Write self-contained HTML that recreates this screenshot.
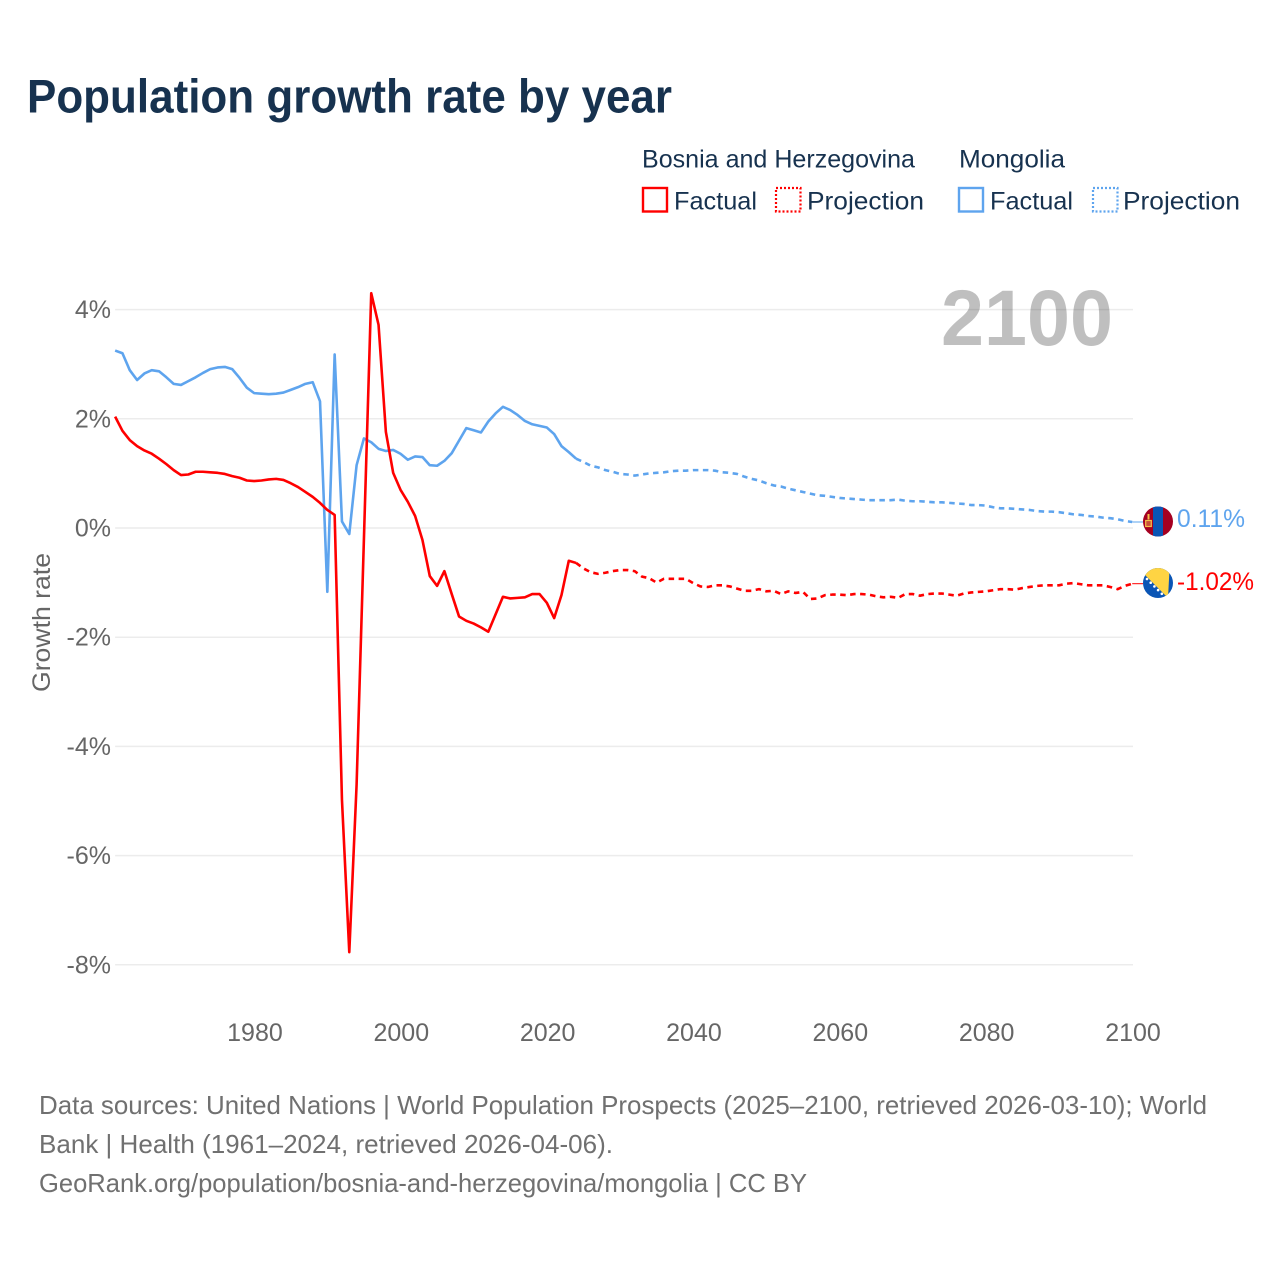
<!DOCTYPE html>
<html lang="en">
<head>
<meta charset="utf-8">
<title>Population growth rate by year</title>
<style>
html,body{margin:0;padding:0;background:#fff;}
svg{display:block;}
text{font-family:"Liberation Sans",sans-serif;}
</style>
</head>
<body>
<svg id="chart" xmlns="http://www.w3.org/2000/svg" width="1280" height="1280" viewBox="0 0 1280 1280">
  <rect x="0" y="0" width="1280" height="1280" fill="#ffffff"/>
  <text x="27" y="112.5" font-size="47" font-weight="700" fill="#17324f" textLength="645" lengthAdjust="spacingAndGlyphs">Population growth rate by year</text>

  <g font-size="25" fill="#17324f">
    <text x="642" y="167.5" textLength="273" lengthAdjust="spacingAndGlyphs">Bosnia and Herzegovina</text>
    <text x="959" y="167.5" textLength="106" lengthAdjust="spacingAndGlyphs">Mongolia</text>
    <g>
      <rect x="643" y="188" width="24" height="23.5" fill="none" stroke="#ff0000" stroke-width="2.4"/>
      <text x="674" y="209.5" textLength="83" lengthAdjust="spacingAndGlyphs">Factual</text>
    </g>
    <g>
      <rect x="776" y="188" width="24.5" height="23.5" fill="none" stroke="#ff0000" stroke-width="2.2" stroke-dasharray="2 2"/>
      <text x="807" y="209.5" textLength="117" lengthAdjust="spacingAndGlyphs">Projection</text>
    </g>
    <g>
      <rect x="959" y="188" width="24" height="23.5" fill="none" stroke="#5ea4ee" stroke-width="2.4"/>
      <text x="990" y="209.5" textLength="83" lengthAdjust="spacingAndGlyphs">Factual</text>
    </g>
    <g>
      <rect x="1093" y="188" width="24.5" height="23.5" fill="none" stroke="#5ea4ee" stroke-width="2.2" stroke-dasharray="2 2"/>
      <text x="1123" y="209.5" textLength="117" lengthAdjust="spacingAndGlyphs">Projection</text>
    </g>
  </g>

  <g id="grid"></g>
  <g id="yticks"></g>
  <g id="xticks"></g>

  <text transform="translate(50,692) rotate(-90)" font-size="25" fill="#666666" textLength="139" lengthAdjust="spacingAndGlyphs">Growth rate</text>

  <text x="941" y="345" font-size="79" font-weight="700" fill="#000000" fill-opacity="0.25" textLength="172" lengthAdjust="spacingAndGlyphs">2100</text>

  <g id="series"></g>

  <defs>
    <clipPath id="flag-clip-mn"><circle id="clip-mn" cx="1158" cy="521.5" r="15"/></clipPath>
    <clipPath id="flag-clip-ba"><circle id="clip-ba" cx="1158" cy="583" r="15"/></clipPath>
  </defs>
  <g id="flag-mn" clip-path="url(#flag-clip-mn)">
    <rect x="1143" y="506" width="30" height="31" fill="#a50021"/>
    <rect x="1153" y="506" width="10" height="31" fill="#0a55b5"/>
    <rect x="1145.7" y="520.5" width="5.6" height="6" fill="#c9503a" stroke="#f4c14a" stroke-width="1.2"/>
    <rect x="1147.5" y="514" width="2" height="5.5" fill="#f4c14a"/>
  </g>
  <g id="flag-ba" clip-path="url(#flag-clip-ba)">
    <rect x="1143" y="568" width="30" height="30" fill="#0a55b5"/>
    <polygon points="1144,574 1144,566 1169.7,566 1168,598" fill="#fed443"/>
    <g fill="#ffffff">
      <circle cx="1147" cy="579" r="1.3"/>
      <circle cx="1150.7" cy="582.7" r="1.3"/>
      <circle cx="1154.4" cy="586.4" r="1.3"/>
      <circle cx="1158.1" cy="590.1" r="1.3"/>
      <circle cx="1161.8" cy="593.8" r="1.3"/>
    </g>
  </g>

  <text id="label-mn" x="1177" y="527" font-size="25" fill="#5ea4ee" textLength="68" lengthAdjust="spacingAndGlyphs">0.11%</text>
  <text id="label-ba" x="1177" y="590" font-size="25" fill="#ff0000" textLength="77" lengthAdjust="spacingAndGlyphs">-1.02%</text>

  <g font-size="26" fill="#707070">
    <text x="39" y="1114" textLength="1168" lengthAdjust="spacingAndGlyphs">Data sources: United Nations | World Population Prospects (2025–2100, retrieved 2026-03-10); World</text>
    <text x="39" y="1153" textLength="574" lengthAdjust="spacingAndGlyphs">Bank | Health (1961–2024, retrieved 2026-04-06).</text>
    <text x="39" y="1192" textLength="768" lengthAdjust="spacingAndGlyphs">GeoRank.org/population/bosnia-and-herzegovina/mongolia | CC BY</text>
  </g>
</svg>

<script>
const factualYears = [1961,1962,1963,1964,1965,1966,1967,1968,1969,1970,1971,1972,1973,1974,1975,1976,1977,1978,1979,1980,1981,1982,1983,1984,1985,1986,1987,1988,1989,1990,1991,1992,1993,1994,1995,1996,1997,1998,1999,2000,2001,2002,2003,2004,2005,2006,2007,2008,2009,2010,2011,2012,2013,2014,2015,2016,2017,2018,2019,2020,2021,2022,2023,2024];
const projectionYears = [2024,2025,2026,2027,2028,2029,2030,2031,2032,2033,2034,2035,2036,2037,2038,2039,2040,2041,2042,2043,2044,2045,2046,2047,2048,2049,2050,2051,2052,2053,2054,2055,2056,2057,2058,2059,2060,2061,2062,2063,2064,2065,2066,2067,2068,2069,2070,2071,2072,2073,2074,2075,2076,2077,2078,2079,2080,2081,2082,2083,2084,2085,2086,2087,2088,2089,2090,2091,2092,2093,2094,2095,2096,2097,2098,2099,2100];

const bosniaFactual = [2.04,1.78,1.61,1.5,1.42,1.36,1.27,1.17,1.06,0.97,0.98,1.03,1.03,1.02,1.01,0.99,0.95,0.92,0.87,0.86,0.87,0.89,0.9,0.88,0.82,0.75,0.66,0.57,0.46,0.33,0.24,-4.98,-7.77,-4.7,-0.2,4.3,3.72,1.76,1.01,0.7,0.48,0.22,-0.22,-0.88,-1.06,-0.79,-1.21,-1.62,-1.7,-1.75,-1.82,-1.9,-1.58,-1.26,-1.29,-1.28,-1.27,-1.21,-1.21,-1.37,-1.65,-1.23,-0.6,-0.64];
const bosniaProjection = [-0.64,-0.74,-0.81,-0.84,-0.82,-0.79,-0.77,-0.77,-0.79,-0.89,-0.92,-1.0,-0.93,-0.93,-0.93,-0.93,-1.01,-1.07,-1.08,-1.05,-1.05,-1.07,-1.11,-1.15,-1.15,-1.12,-1.16,-1.15,-1.21,-1.16,-1.19,-1.17,-1.3,-1.29,-1.23,-1.22,-1.22,-1.23,-1.21,-1.21,-1.22,-1.25,-1.27,-1.26,-1.28,-1.21,-1.21,-1.24,-1.21,-1.2,-1.2,-1.22,-1.24,-1.2,-1.18,-1.17,-1.16,-1.14,-1.12,-1.12,-1.13,-1.1,-1.08,-1.06,-1.05,-1.05,-1.05,-1.02,-1.01,-1.03,-1.05,-1.05,-1.05,-1.08,-1.12,-1.06,-1.02];

const mongoliaFactual = [3.25,3.2,2.89,2.71,2.83,2.89,2.87,2.76,2.64,2.62,2.69,2.76,2.84,2.91,2.94,2.95,2.91,2.75,2.57,2.47,2.46,2.45,2.46,2.48,2.53,2.58,2.64,2.67,2.32,-1.17,3.18,0.12,-0.11,1.15,1.64,1.57,1.45,1.41,1.43,1.36,1.25,1.31,1.3,1.15,1.14,1.23,1.37,1.6,1.83,1.79,1.75,1.95,2.1,2.22,2.16,2.07,1.96,1.9,1.87,1.84,1.72,1.5,1.39,1.27];
const mongoliaProjection = [1.27,1.21,1.14,1.11,1.06,1.03,0.99,0.98,0.96,0.98,1.0,1.01,1.02,1.04,1.05,1.05,1.06,1.06,1.06,1.05,1.02,1.01,0.99,0.94,0.9,0.87,0.82,0.78,0.76,0.72,0.69,0.66,0.63,0.6,0.59,0.57,0.55,0.54,0.53,0.52,0.51,0.51,0.51,0.51,0.52,0.5,0.49,0.49,0.48,0.47,0.47,0.46,0.45,0.44,0.42,0.42,0.41,0.38,0.36,0.36,0.35,0.34,0.33,0.31,0.3,0.3,0.29,0.27,0.25,0.24,0.22,0.21,0.19,0.18,0.16,0.13,0.11];

const xTickValues = [1980,2000,2020,2040,2060,2080,2100];
const yTickValues = [4,2,0,-2,-4,-6,-8];

const SVG_NS = 'http://www.w3.org/2000/svg';
function xScale(year) { return 1133 + (year - 2100) * 7.317; }
function xMark(year) { return xScale(year) - 0.8; }
function yScale(value) { return 528 - value * 54.6; }

const grid = document.getElementById('grid');
const yticks = document.getElementById('yticks');
const xticks = document.getElementById('xticks');
const series = document.getElementById('series');

yTickValues.forEach(function (v) {
  const line = document.createElementNS(SVG_NS, 'line');
  
  
  line.setAttribute('x1', xMark(1961));
  line.setAttribute('x2', xScale(2100));
  line.setAttribute('y1', yScale(v));
  line.setAttribute('y2', yScale(v));
  line.setAttribute('stroke', '#ececec');
  line.setAttribute('stroke-width', '1.5');
  grid.appendChild(line);

  const label = document.createElementNS(SVG_NS, 'text');
  
  
  label.setAttribute('x', 111);
  label.setAttribute('y', yScale(v) + 8.5);
  label.setAttribute('text-anchor', 'end');
  label.setAttribute('font-size', '25');
  label.setAttribute('fill', '#666666');
  label.textContent = v + '%';
  yticks.appendChild(label);
});

xTickValues.forEach(function (yr) {
  const label = document.createElementNS(SVG_NS, 'text');
  
  
  label.setAttribute('x', xScale(yr));
  label.setAttribute('y', 1041);
  label.setAttribute('text-anchor', 'middle');
  label.setAttribute('font-size', '25');
  label.setAttribute('fill', '#666666');
  label.textContent = String(yr);
  xticks.appendChild(label);
});

function pointsFor(years, values) {
  return values.map(function (v, i) {
    return xMark(years[i]).toFixed(2) + ',' + yScale(v).toFixed(2);
  }).join(' ');
}

function drawLine(years, values, color, dashed, name) {
  const poly = document.createElementNS(SVG_NS, 'polyline');
  
  
  poly.setAttribute('points', pointsFor(years, values));
  poly.setAttribute('fill', 'none');
  poly.setAttribute('stroke', color);
  poly.setAttribute('stroke-width', '2.6');
  poly.setAttribute('stroke-linejoin', 'round');
  if (dashed) {
    poly.setAttribute('stroke-dasharray', '5.5 4.5');
  }
  series.appendChild(poly);
}

function drawConnector(value, color, name) {
  const line = document.createElementNS(SVG_NS, 'line');
  
  
  line.setAttribute('x1', xMark(2100));
  line.setAttribute('x2', 1143);
  line.setAttribute('y1', yScale(value));
  line.setAttribute('y2', yScale(value));
  line.setAttribute('stroke', color);
  line.setAttribute('stroke-width', '1');
  series.appendChild(line);
}

drawLine(projectionYears, mongoliaProjection, '#5ea4ee', true, 'mongolia-projection-line');
drawLine(factualYears, mongoliaFactual, '#5ea4ee', false, 'mongolia-factual-line');
drawLine(projectionYears, bosniaProjection, '#ff0000', true, 'bosnia-projection-line');
drawLine(factualYears, bosniaFactual, '#ff0000', false, 'bosnia-factual-line');

const lastMongolia = mongoliaProjection[mongoliaProjection.length - 1];
const lastBosnia = bosniaProjection[bosniaProjection.length - 1];
drawConnector(lastMongolia, '#5ea4ee', 'mongolia-end-connector');
drawConnector(lastBosnia, '#ff0000', 'bosnia-end-connector');

const dyMongolia = yScale(lastMongolia) - 522;
const dyBosnia = yScale(lastBosnia) - 583.7;
document.getElementById('flag-mn').setAttribute('transform', 'translate(0,' + dyMongolia + ')');
document.getElementById('flag-ba').setAttribute('transform', 'translate(0,' + dyBosnia + ')');
document.getElementById('label-mn').setAttribute('y', yScale(lastMongolia) + 5);
document.getElementById('label-ba').setAttribute('y', yScale(lastBosnia) + 6.3);
</script>
</body>
</html>
